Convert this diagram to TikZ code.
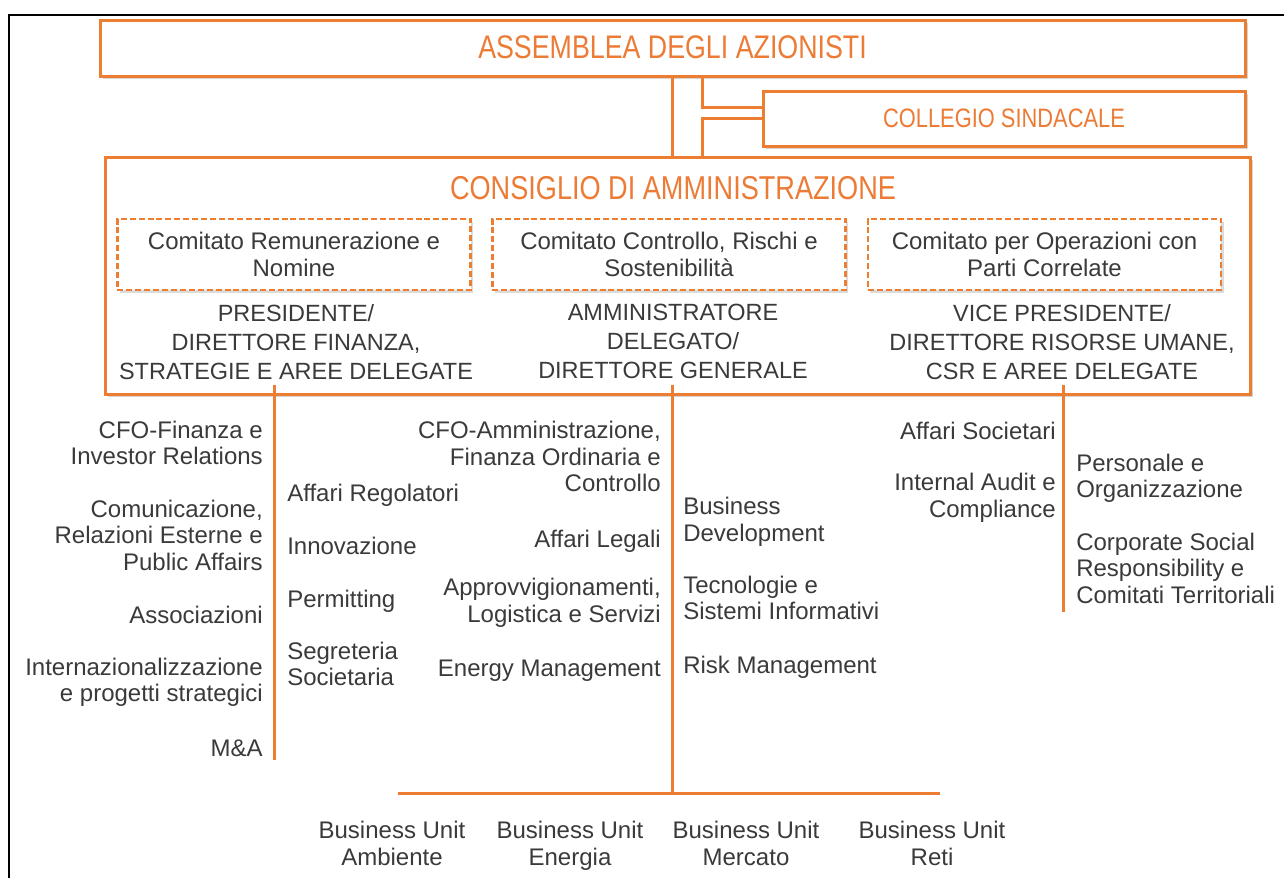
\documentclass[tikz,border=0pt]{standalone}
\usepackage{fontspec}
\setmainfont{Liberation Sans}
\newfontfamily\headfont[FakeStretch=0.82]{Liberation Sans}
\usetikzlibrary{shadows}
\definecolor{brandorange}{HTML}{ED7D31}
\definecolor{headorange}{HTML}{EC7B36}
\definecolor{bodygray}{HTML}{3A3A3A}

\begin{document}
\begin{tikzpicture}[x=0.75pt,y=-0.75pt,
  orgbox/.style={draw=brandorange, line width=2.25pt, fill=white, inner sep=0pt,
    drop shadow={shadow xshift=2pt, shadow yshift=-2.4pt, opacity=0.3, fill=black!55}},
  combox/.style={draw=brandorange, line width=1.9pt, dash pattern=on 4.5pt off 2.2pt,
    fill=white, inner sep=0pt, minimum width=265pt, minimum height=53.25pt,
    align=center, text=bodygray, font=\fontsize{18pt}{20.5pt}\selectfont,
    drop shadow={shadow xshift=1.8pt, shadow yshift=-2.2pt, opacity=0.25, fill=black!55}},
  heading/.style={text=headorange, inner sep=0pt},
  txt/.style={text=bodygray, inner sep=0pt,
    execute at begin node=\strut, execute at end node=\strut},
  role/.style={txt, align=center, font=\fontsize{17.6pt}{21.75pt}\selectfont},
  itemL/.style={txt, anchor=east, align=right, font=\fontsize{18pt}{19.9pt}\selectfont},
  itemR/.style={txt, anchor=west, align=left, font=\fontsize{18pt}{19.9pt}\selectfont},
  unit/.style={txt, align=center, font=\fontsize{18pt}{19.9pt}\selectfont},
  conn/.style={draw=brandorange, line width=2.25pt}
]
\useasboundingbox (0,0) rectangle (1284,878);

% outer frame
\draw[black, line width=1.5pt] (9,878) -- (9,15) -- (1284,15);

% governing bodies
\node[orgbox, minimum width=858.75pt, minimum height=42pt] (assemblea) at (672.5,48) {};
\node[heading, font=\headfont\fontsize{24.5pt}{28pt}\selectfont] (assembleaT) at (672.5,47) {ASSEMBLEA DEGLI AZIONISTI};

\node[orgbox, minimum width=361.5pt, minimum height=41.25pt] (collegio) at (1004,118.5) {};
\node[heading, font=\headfont\fontsize{20pt}{24pt}\selectfont] (collegioT) at (1004,118) {COLLEGIO SINDACALE};

\node[orgbox, minimum width=858.75pt, minimum height=177.75pt] (consiglio) at (677.5,275.5) {};
\node[heading, font=\headfont\fontsize{24.8pt}{28pt}\selectfont] (consiglioT) at (673,188) {CONSIGLIO DI AMMINISTRAZIONE};

% committees
\node[combox] (crn) at (294,254.5) {Comitato Remunerazione e\\Nomine};
\node[combox] (ccr) at (669,254.5) {Comitato Controllo, Rischi e\\Sostenibilità};
\node[combox] (cpc) at (1044.5,254.5) {Comitato per Operazioni con\\Parti Correlate};

% executive roles
\node[role] (pres) at (296,346) {PRESIDENTE/\\DIRETTORE FINANZA,\\STRATEGIE E AREE DELEGATE};
\node[role] (ad) at (673,346) {AMMINISTRATORE\\DELEGATO/\\DIRETTORE GENERALE};
\node[role] (vice) at (1062,346) {VICE PRESIDENTE/\\DIRETTORE RISORSE UMANE,\\CSR E AREE DELEGATE};

% links between governing bodies
\coordinate (ca) at (672,0);
\coordinate (cb) at (702,0);
\draw[conn] (assemblea.south -| ca) -- (consiglio.north -| ca);
\draw[conn] (assemblea.south -| cb) |- ([yshift=8.6pt]collegio.west);
\draw[conn] (collegio.west) -| (consiglio.north -| cb);

% reporting lines
\coordinate (lx) at (274,0);
\coordinate (mx) at (672,0);
\coordinate (rx) at (1063,0);
\coordinate (lend) at (274,760);
\coordinate (mend) at (672,793);
\coordinate (rend) at (1063,612);
\coordinate (bl) at (398,793);
\coordinate (br) at (940,793);
\draw[conn] ([yshift=8.25pt]consiglio.south -| lx) -- (lend);
\draw[conn] ([yshift=8.25pt]consiglio.south -| mx) -- (mend);
\draw[conn] ([yshift=8.25pt]consiglio.south -| rx) -- (rend);
\draw[conn] (bl) -- (br);

% functions of the President
\node[itemL] (cfofin) at (263,447) {CFO-Finanza e\\Investor Relations};
\node[itemL] (comun) at (263,539) {Comunicazione,\\Relazioni Esterne e\\Public Affairs};
\node[itemL] (assoc) at (263,618) {Associazioni};
\node[itemL] (intern) at (263,684) {Internazionalizzazione\\e progetti strategici};
\node[itemL] (ma) at (263,751) {M\&A};
\node[itemR] (areg) at (287,496) {Affari Regolatori};
\node[itemR] (innov) at (287,549) {Innovazione};
\node[itemR] (perm) at (287,602) {Permitting};
\node[itemR] (segr) at (287,668) {Segreteria\\Societaria};

% functions of the CEO
\node[itemL] (cfoamm) at (661,460.5) {CFO-Amministrazione,\\Finanza Ordinaria e\\Controllo};
\node[itemL] (legali) at (661,542) {Affari Legali};
\node[itemL] (approv) at (661,604.5) {Approvvigionamenti,\\Logistica e Servizi};
\node[itemL] (energy) at (661,671) {Energy Management};
\node[itemR] (busdev) at (683,523.5) {Business\\Development};
\node[itemR] (tecno) at (683,602) {Tecnologie e\\Sistemi Informativi};
\node[itemR] (risk) at (683,668) {Risk Management};

% functions of the Vice President
\node[itemL] (affsoc) at (1056,434) {Affari Societari};
\node[itemL] (audit) at (1056,499.5) {Internal Audit e\\Compliance};
\node[itemR] (pers) at (1076,480) {Personale e\\Organizzazione};
\node[itemR] (csr) at (1076,572) {Corporate Social\\Responsibility e\\Comitati Territoriali};

% business units
\node[unit] (buamb) at (392,847.5) {Business Unit\\Ambiente};
\node[unit] (buene) at (570,847.5) {Business Unit\\Energia};
\node[unit] (bumer) at (746,847.5) {Business Unit\\Mercato};
\node[unit] (buret) at (932,847.5) {Business Unit\\Reti};
\end{tikzpicture}
\end{document}
